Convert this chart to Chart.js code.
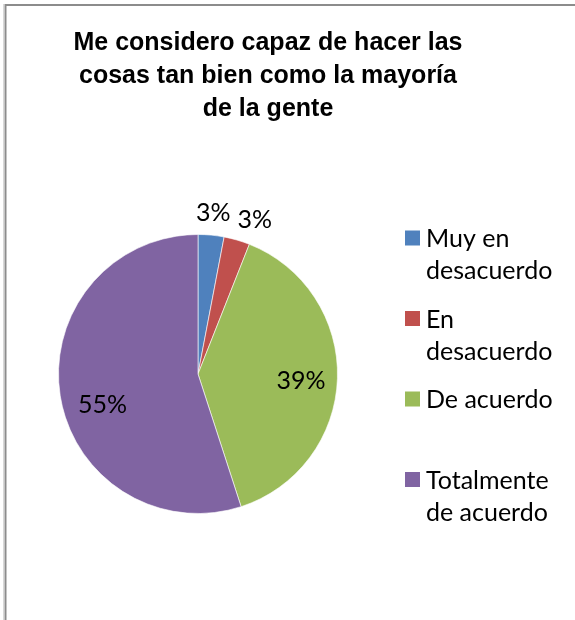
<!DOCTYPE html>
<html>
<head>
<meta charset="utf-8">
<script src="https://cdn.jsdelivr.net/npm/chart.js@4.4.1/dist/chart.umd.min.js"></script>
<style>
  html, body { margin: 0; padding: 0; background: #fff; }
  #wrap { position: relative; width: 575px; height: 620px; }
  canvas { display: block; }
</style>
</head>
<body>
<div id="wrap"><canvas id="c" width="575" height="620"></canvas></div>
<script>
const titleLines = ["Me considero capaz de hacer las", "cosas tan bien como la mayoría", "de la gente"];
const categories = ["Muy en desacuerdo", "En desacuerdo", "De acuerdo", "Totalmente de acuerdo"];
const values = [3, 3, 39, 55];
const colors = ["#4F81BD", "#C0504D", "#9BBB59", "#8064A2"];

// label placement style: radius factor and angle offset (degrees)
const labelRadius = [1.16, 1.18, 0.74, 0.72];
const labelAngleOffset = [0, 4, 2, -9];

const labelFont = "25px Lato";

const decorPlugin = {
  id: 'decor',
  beforeDraw(chart) {
    const ctx = chart.ctx;
    ctx.save();
    ctx.fillStyle = '#fff';
    ctx.fillRect(0, 0, chart.width, chart.height);
    ctx.strokeStyle = '#8c8c8c';
    ctx.lineWidth = 2;
    ctx.beginPath();
    ctx.moveTo(5.5, 620);
    ctx.lineTo(5.5, 5);
    ctx.lineTo(575, 5);
    ctx.stroke();
    ctx.strokeStyle = '#d8d8d8';
    ctx.lineWidth = 1;
    ctx.beginPath();
    ctx.moveTo(3.5, 620);
    ctx.lineTo(3.5, 4);
    ctx.stroke();
    ctx.restore();
  },
  afterDraw(chart) {
    const ctx = chart.ctx;
    ctx.save();
    // title
    ctx.fillStyle = '#000';
    ctx.font = 'bold 25px "Liberation Sans", Arial, sans-serif';
    ctx.textAlign = 'center';
    ctx.textBaseline = 'alphabetic';
    titleLines.forEach((t, i) => ctx.fillText(t, 268, 50 + i * 33));

    // data labels
    const meta = chart.getDatasetMeta(0);
    const total = values.reduce((a, b) => a + b, 0);
    ctx.font = labelFont;
    ctx.textBaseline = 'middle';
    meta.data.forEach((arc, i) => {
      const p = arc.getProps(['x', 'y', 'startAngle', 'endAngle', 'outerRadius'], true);
      const mid = (p.startAngle + p.endAngle) / 2 + labelAngleOffset[i] * Math.PI / 180;
      const r = p.outerRadius * labelRadius[i];
      const x = p.x + Math.cos(mid) * r;
      const y = p.y + Math.sin(mid) * r;
      const pct = Math.round(values[i] / total * 100) + '%';
      ctx.fillText(pct, x, y);
    });

    // legend
    const lx = 405, tx = 426, maxW = 575 - tx - 4;
    const startY = 238, step = 80.5, lineH = 32;
    ctx.textAlign = 'left';
    ctx.textBaseline = 'middle';
    categories.forEach((cat, i) => {
      const words = cat.split(' ');
      const lines = [];
      let cur = '';
      words.forEach(w => {
        const test = cur ? cur + ' ' + w : w;
        if (ctx.measureText(test).width > maxW && cur) { lines.push(cur); cur = w; }
        else cur = test;
      });
      if (cur) lines.push(cur);
      const cy = startY + i * step;
      ctx.fillStyle = colors[i];
      ctx.fillRect(lx, cy - 7.5, 15, 15);
      ctx.fillStyle = '#000';
      lines.forEach((ln, j) => ctx.fillText(ln, tx, cy + 1 + j * lineH));
    });
    ctx.restore();
  }
};

new Chart(document.getElementById('c'), {
  type: 'pie',
  data: {
    labels: categories,
    datasets: [{
      data: values,
      backgroundColor: colors,
      borderColor: 'rgba(255,255,255,0.6)',
      borderWidth: 1
    }]
  },
  options: {
    responsive: false,
    animation: false,
    layout: { padding: { left: 58, right: 237, top: 234, bottom: 106 } },
    plugins: {
      legend: { display: false },
      title: { display: false },
      tooltip: { enabled: false }
    }
  },
  plugins: [decorPlugin]
});
</script>
</body>
</html>
